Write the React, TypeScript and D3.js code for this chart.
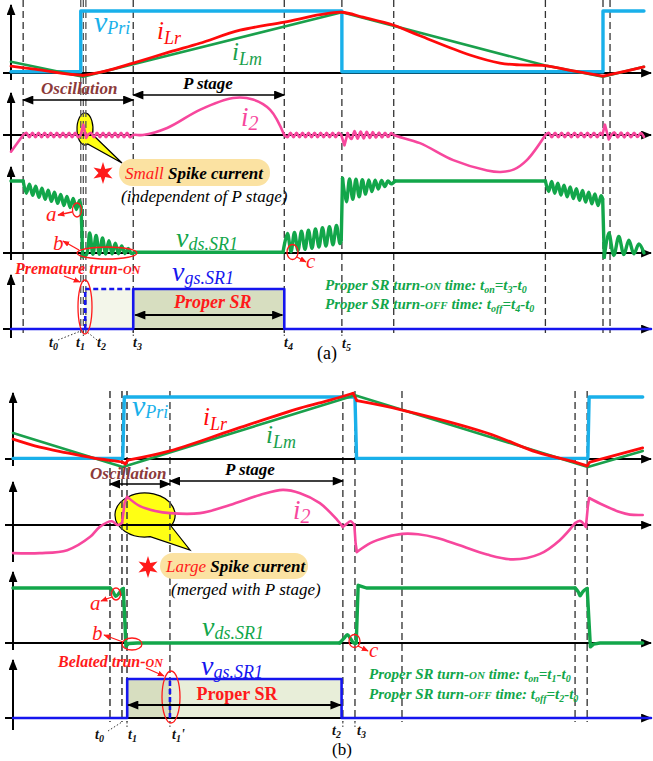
import React from 'react';
import * as d3 from 'd3';

type Pt = [number, number];
type Ring = { ring: [number, number]; n: number; c: [number, number]; a: [number, number]; s: number };
type Item = Pt | Ring;
type Seg = { sm?: boolean; p: Item[] };

const SERIF = '"Liberation Serif", "Times New Roman", serif';

const C = {
  vpri: '#19b0ea',
  ilr: '#ff0a0a',
  ilm: '#1aa04c',
  i2: '#f7479d',
  vds: '#12a64a',
  vgs: '#1515ee',
  osc: '#8c3a3a',
  red: '#ff1a1a',
  box: '#fbe2a2',
  bubble: '#ffff14',
  fillDark: '#d7dec0',
  fillLight: '#f3f6ea',
  fillMid: '#e8eed9',
  dash: '#333',
};

// ---------------- panel (a) ----------------
// switching instants (time units, 0..100 per panel)
const A_MARKS = [1.9, 10.9, 11.3, 11.7, 19.1, 42.7, 51.7, 59.8, 83.5, 92.5, 93.6];
const A_MARKS_CLOSE = [10.9, 11.3, 11.7];

const A_VPRI: Seg[] = [
  { p: [[0, 0.02], [10.9, 0.02], [10.9, 1], [51.7, 1], [51.7, 0.02], [92.5, 0.02], [92.5, 1], [98.9, 1]] },
];
const A_ILM: Seg[] = [
  { p: [[0, 0.18], [11.25, -0.06], [51.7, 0.98], [83.5, 0.12], [92.5, -0.06], [98.9, 0.1]] },
];
const A_ILR: Seg[] = [
  { sm: true, p: [[0, 0.11], [4.5, 0.05], [8.4, -0.01], [11.25, -0.04]] },
  {
    sm: true,
    p: [[11.25, -0.04], [14.7, 0.03], [19.1, 0.16], [24.8, 0.34], [29.5, 0.48], [35.8, 0.69], [42.7, 0.82], [48.3, 0.94],
      [51.7, 0.98], [55, 0.9], [59.8, 0.77], [63.9, 0.6], [71.7, 0.29], [76.4, 0.16], [79.5, 0.13], [83.4, 0.12], [88.1, 0.03], [92.5, -0.05]],
  },
  { sm: true, p: [[92.5, -0.05], [93.9, -0.02], [98.9, 0.1]] },
];
const A_I2: Seg[] = [
  { p: [[0, -0.45], [1.9, 0]] },
  { sm: true, p: [[1.9, 0], { ring: [2.4, 10.5], n: 8.5, c: [0, 0], a: [0.06, 0.06], s: 1 }, [10.9, 0]] },
  { p: [[10.9, 0], [11.3, 0.28], [11.75, -0.08], [12.0, 0]] },
  {
    sm: true,
    p: [[12.0, 0], { ring: [12.5, 18.6], n: 6.5, c: [0, 0], a: [0.06, 0.06], s: 1 }, [19.1, 0], [20.6, 0.0], [24.4, 0.19],
      [29.5, 0.68], [34.7, 1.0], [37.8, 0.96], [40.5, 0.68], [42.7, 0]],
  },
  { sm: true, p: [[42.7, 0], { ring: [43.2, 51.2], n: 8.5, c: [0, 0], a: [0.06, 0.06], s: -1 }, [51.6, 0]] },
  { p: [[51.6, 0], [52.1, -0.28], [52.6, 0.05]] },
  {
    sm: true,
    p: [[52.6, 0.05], { ring: [53.2, 59.4], n: 6.5, c: [0, 0], a: [0.11, 0.05], s: -1 }, [59.8, 0], [63.9, -0.22], [69.1, -0.68],
      [74.4, -0.96], [76.5, -1.0], [78.6, -0.93], [80.6, -0.68], [83.5, 0]],
  },
  { sm: true, p: [[83.5, 0], { ring: [84.0, 92.1], n: 8, c: [0, 0], a: [0.06, 0.06], s: 1 }, [92.4, 0]] },
  { p: [[92.4, 0], [92.8, 0.28], [93.4, -0.12], [93.8, 0]] },
  { sm: true, p: [[93.8, 0], { ring: [94.3, 98.9], n: 4.5, c: [0, 0], a: [0.07, 0.05], s: 1 }] },
];
const A_VDS: Seg[] = [
  { p: [[0, 1], [1.9, 1]] },
  { sm: true, p: [[1.9, 1], { ring: [2.4, 10.7], n: 8.5, c: [0.9, 0.66], a: [0.07, 0.07], s: -1 }, [10.95, 0.64]] },
  { p: [[10.95, 0.64], [11.2, -0.05]] },
  { sm: true, p: [[11.2, -0.05], [11.8, -0.02], { ring: [12.3, 18.8], n: 6.5, c: [0.13, 0.02], a: [0.15, 0.025], s: 1 }, [19.3, 0.01]] },
  { p: [[19.3, 0.01], [42.5, 0.01]] },
  { sm: true, p: [[42.5, 0.01], { ring: [43.2, 51.4], n: 7.5, c: [0.14, 0.26], a: [0.13, 0.13], s: 1 }, [51.6, 0.18]] },
  { p: [[51.6, 0.18], [51.8, 1.04]] },
  { sm: true, p: [[51.8, 1.04], { ring: [52.4, 59.4], n: 7, c: [0.87, 0.98], a: [0.16, 0.02], s: -1 }, [60, 1.0]] },
  { p: [[60, 1.0], [83.5, 1.0]] },
  { sm: true, p: [[83.5, 1.0], { ring: [84.0, 92.2], n: 8.5, c: [0.93, 0.72], a: [0.075, 0.075], s: -1 }, [92.45, 0.75]] },
  { p: [[92.45, 0.75], [92.7, -0.06]] },
  { sm: true, p: [[92.7, -0.06], { ring: [93.4, 98.9], n: 3.5, c: [0.12, 0.05], a: [0.16, 0.05], s: 1 }] },
];
const A_VGS: Seg[] = [{ p: [[0, 0], [19.1, 0], [19.1, 1], [42.7, 1], [42.7, 0], [100, 0]] }];
const A_VGS_EARLY: Seg[] = [{ p: [[11.6, 0], [11.6, 1], [19.1, 1]] }];
const A_FILLS = [
  { t: [11.6, 19.1], color: C.fillLight },
  { t: [19.1, 42.7], color: C.fillDark },
];

// ---------------- panel (b) ----------------
const B_MARKS = [15.2, 17.08, 17.87, 24.6, 51.7, 53.6, 60.97, 88.1, 90.0];
const B_MARKS_CLOSE = [15.2, 17.08, 17.87];

const B_VPRI: Seg[] = [
  { p: [[0, 0.01], [17.2, 0.01], [17.45, 1], [53.6, 1], [53.85, 0.01], [90.1, 0.01], [90.3, 1], [98.7, 1]] },
];
const B_ILM: Seg[] = [{ p: [[0, 0.42], [17.2, -0.13], [53.6, 1.03], [90.1, -0.13], [98.7, 0.13]] }];
const B_ILR: Seg[] = [
  { sm: true, p: [[0, 0.32], [4.2, 0.19], [8.5, 0.1], [13.6, 0], [17.1, -0.05], [17.6, -0.08]] },
  { p: [[17.6, -0.08], [18.0, -0.02]] },
  { sm: true, p: [[18.0, -0.02], [24.6, 0.13], [34.5, 0.47], [45, 0.82], [49.7, 0.95], [53.3, 1.06]] },
  { p: [[53.3, 1.06], [53.9, 0.94]] },
  { sm: true, p: [[53.9, 0.94], [61, 0.79], [74.3, 0.42], [82.1, 0.11], [88.1, -0.05], [90, -0.11]] },
  { p: [[90, -0.11], [90.4, -0.05], [98.7, 0.18]] },
];
const B_I2: Seg[] = [
  { sm: true, p: [[0, -0.76], [4.2, -0.76], [8.5, -0.68], [12.1, -0.32], [13.6, -0.05], [15.5, 0.1], [16.4, 0.0], [17.1, 0.06]] },
  { p: [[17.1, 0.06], [17.5, 0.6], [17.9, 0.76]] },
  {
    sm: true,
    p: [[17.9, 0.76], [19.9, 0.51], [22.3, 0.38], [24.6, 0.32], [29.3, 0.32], [34, 0.54], [38.7, 0.81], [42.3, 0.95],
      [45, 0.86], [48.1, 0.59], [50.8, 0.14], [51.7, -0.05]],
  },
  { sm: true, p: [[51.7, -0.05], [52.3, 0.03], [52.9, 0.1], [53.5, 0.0]] },
  { p: [[53.5, 0.0], [53.7, -0.5], [53.9, -0.73]] },
  {
    sm: true,
    p: [[53.9, -0.73], [56, -0.49], [58.5, -0.33], [61, -0.24], [63.5, -0.25], [66.5, -0.35], [70, -0.55], [74.3, -0.8],
      [78.4, -0.93], [82.6, -0.78], [85.7, -0.41], [88.1, 0.05]],
  },
  { sm: true, p: [[88.1, 0.05], [88.9, 0.11], [89.8, -0.05]] },
  { p: [[89.8, -0.05], [90.1, 0.5], [90.3, 0.73]] },
  { sm: true, p: [[90.3, 0.73], [92.5, 0.54], [95.1, 0.35], [96.7, 0.28], [98.7, 0.27]] },
];
const B_VDS: Seg[] = [
  { p: [[0, 1], [15.2, 1]] },
  { sm: true, p: [[15.2, 1], [15.7, 0.93], [16.1, 0.85], [16.6, 0.9], [17.1, 0.98], [17.3, 0.99]] },
  { p: [[17.3, 0.99], [17.7, -0.06], [18.1, -0.01], [19.5, 0], [51.2, 0]] },
  { sm: true, p: [[51.2, 0], [51.9, 0.09], [52.4, 0.15], [52.9, 0.08], [53.4, 0], [53.8, 0]] },
  { p: [[53.8, 0], [54.1, 1.05], [54.6, 1.03], [55.4, 1.0], [88.1, 1.0]] },
  { sm: true, p: [[88.1, 1.0], [88.6, 0.93], [88.9, 0.86], [89.3, 0.93], [89.8, 0.98], [90.0, 0.99]] },
  { p: [[90.0, 0.99], [90.5, -0.07], [91, -0.02], [92, 0], [98.7, 0]] },
];
const B_VGS: Seg[] = [{ p: [[0, 0], [17.9, 0], [17.9, 1], [51.5, 1], [51.5, 0], [100, 0]] }];
const B_VGS_LATE: Seg[] = [{ p: [[24.6, 0], [24.6, 1]] }];
const B_FILLS = [
  { t: [17.9, 24.6], color: C.fillDark },
  { t: [24.6, 51.5], color: C.fillMid },
];

// ---------------- scales ----------------
const xA = d3.scaleLinear().domain([0, 100]).range([11, 651]);
const xB = d3.scaleLinear().domain([0, 100]).range([13, 651]);
const yA = [
  d3.scaleLinear().domain([0, 1]).range([73, 11]),
  d3.scaleLinear().domain([0, 1]).range([135, 98]),
  d3.scaleLinear().domain([0, 1]).range([253, 181]),
  d3.scaleLinear().domain([0, 1]).range([329, 289]),
];
const yB = [
  d3.scaleLinear().domain([0, 1]).range([459, 397]),
  d3.scaleLinear().domain([0, 1]).range([525, 488]),
  d3.scaleLinear().domain([0, 1]).range([643, 588]),
  d3.scaleLinear().domain([0, 1]).range([718, 679]),
];

// damped ringing bursts are expanded into their alternating extremes
const expand = (items: Item[]): Pt[] => {
  const out: Pt[] = [];
  items.forEach((it) => {
    if (Array.isArray(it)) {
      out.push(it);
      return;
    }
    const m = Math.round(it.n * 2);
    for (let k = 0; k <= m; k++) {
      const f = k / m;
      const t = it.ring[0] + (it.ring[1] - it.ring[0]) * f;
      const c = it.c[0] + (it.c[1] - it.c[0]) * f;
      const a = it.a[0] + (it.a[1] - it.a[0]) * f;
      out.push([t, c + it.s * a * (k % 2 === 0 ? 1 : -1)]);
    }
  });
  return out;
};

type Scale = d3.ScaleLinear<number, number>;

function Wave(props: { segs: Seg[]; x: Scale; y: Scale; color: string; w: number; dash?: string }) {
  const { segs, x, y, color, w, dash } = props;
  return (
    <g>
      {segs.map((s, i) => {
        const gen = d3
          .line<Pt>()
          .x((d) => x(d[0]))
          .y((d) => y(d[1]))
          .curve(s.sm ? d3.curveCatmullRom.alpha(0.5) : d3.curveLinear);
        return (
          <path
            key={i}
            d={gen(expand(s.p)) || ''}
            fill="none"
            stroke={color}
            strokeWidth={w}
            strokeLinejoin="round"
            strokeLinecap={dash ? 'butt' : 'round'}
            strokeDasharray={dash}
          />
        );
      })}
    </g>
  );
}

function Sym(props: { x: number; y: number; m: string; s: string; color: string; size: number; sub: number; dy: number }) {
  const { x, y, m, s, color, size, sub, dy } = props;
  return (
    <text x={x} y={y} fill={color} fontStyle="italic" fontSize={size}>
      {m}
      <tspan fontSize={sub} dy={dy}>
        {s}
      </tspan>
    </text>
  );
}

function TLabel(props: { x: number; y: number; s: string; prime?: boolean }) {
  return (
    <text x={props.x} y={props.y} fontWeight="bold" fontStyle="italic" fontSize={14} fill="#111">
      t
      <tspan fontSize={10} dy={3}>
        {props.s}
      </tspan>
      {props.prime ? <tspan dy={-3}>{"'"}</tspan> : null}
    </text>
  );
}

function GreenLine(props: { x: number; y: number; word: string; sub: string; a: string; b: string }) {
  const { x, y, word, sub, a, b } = props;
  return (
    <text x={x} y={y} fill={C.vds} fontWeight="bold" fontStyle="italic" fontSize={15}>
      {'Proper SR turn-'}
      <tspan fontSize={11}>{word}</tspan>
      <tspan>{' time: t'}</tspan>
      <tspan fontSize={10} dy={3}>{sub}</tspan>
      <tspan dy={-3}>{'=t'}</tspan>
      <tspan fontSize={10} dy={3}>{a}</tspan>
      <tspan dy={-3}>{'-t'}</tspan>
      <tspan fontSize={10} dy={3}>{b}</tspan>
    </text>
  );
}

const bubblePath = (cx: number, cy: number, rx: number, ry: number, a1: number, a2: number, tx: number, ty: number) => {
  const r = Math.PI / 180;
  const p = (a: number) => [cx + rx * Math.cos(a * r), cy + ry * Math.sin(a * r)];
  const [x2, y2] = p(a1);
  const [x1, y1] = p(a2);
  return `M${x2},${y2}L${tx},${ty}L${x1},${y1}A${rx},${ry} 0 1 1 ${x2},${y2}Z`;
};

const starPath = (cx: number, cy: number, R: number, r: number, n: number) =>
  'M' +
  d3
    .range(2 * n)
    .map((i) => {
      const ang = -Math.PI / 2 + (i * Math.PI) / n;
      const rr = i % 2 ? r : R;
      return `${cx + rr * Math.cos(ang)},${cy + rr * Math.sin(ang)}`;
    })
    .join('L') +
  'Z';

function Axes(props: { x0: number; rows: { axis: number; top: number; bottom: number }[]; left: number }) {
  return (
    <g stroke="#000" strokeWidth={2}>
      {props.rows.map((r, i) => (
        <g key={i}>
          <line x1={props.x0} x2={props.x0} y1={r.bottom} y2={r.top} markerEnd="url(#ax)" />
          <line x1={props.left} x2={651} y1={r.axis} y2={r.axis} markerEnd="url(#ax)" />
        </g>
      ))}
    </g>
  );
}

export default function App() {
  const dashA = A_MARKS.map((t) => ({ x: xA(t), close: A_MARKS_CLOSE.includes(t) }));
  const dashB = B_MARKS.map((t) => ({ x: xB(t), close: B_MARKS_CLOSE.includes(t) }));

  return (
    <svg
      width={653}
      height={761}
      viewBox="0 0 653 761"
      style={{ position: 'absolute', left: 0, top: 0, display: 'block' }}
      fontFamily={SERIF}
    >
      <defs>
        <marker id="ax" viewBox="0 0 10 8" refX={9} refY={4} markerWidth={11} markerHeight={9} markerUnits="userSpaceOnUse" orient="auto-start-reverse">
          <path d="M0,0L10,4L0,8Z" fill="#000" />
        </marker>
        <marker id="ak" viewBox="0 0 10 8" refX={9} refY={4} markerWidth={12} markerHeight={9} markerUnits="userSpaceOnUse" orient="auto-start-reverse">
          <path d="M0,0L10,4L0,8Z" fill="#000" />
        </marker>
        <marker id="ar" viewBox="0 0 10 8" refX={9} refY={4} markerWidth={7} markerHeight={6} markerUnits="userSpaceOnUse" orient="auto-start-reverse">
          <path d="M0,0L10,4L0,8Z" fill={C.red} />
        </marker>
      </defs>
      <rect width={653} height={761} fill="#fff" />

      {/* ================= panel (a) ================= */}
      {A_FILLS.map((f, i) => (
        <rect key={i} x={xA(f.t[0])} width={xA(f.t[1]) - xA(f.t[0])} y={yA[3](1)} height={yA[3](0) - yA[3](1)} fill={f.color} />
      ))}
      <path d={bubblePath(85, 129, 8, 16, 20, 70, 122, 163)} fill={C.bubble} stroke="#000" strokeWidth={1.2} />

      {dashA.map((d, i) => (
        <line key={i} x1={d.x} x2={d.x} y1={0} y2={333} stroke={d.close ? '#555' : C.dash} strokeWidth={1.3} strokeDasharray="7,4" />
      ))}
      <g stroke="#333" strokeWidth={1} strokeDasharray="1.5,2">
        <line x1={58} y1={340} x2={xA(10.9)} y2={331} />
        <line x1={97} y1={340} x2={xA(11.7)} y2={331} />
        <line x1={xA(11.3)} y1={331} x2={xA(11.3)} y2={337} />
        {[19.1, 42.7, 51.7].map((t) => (
          <line key={t} x1={xA(t)} x2={xA(t)} y1={331} y2={338} />
        ))}
      </g>

      <Axes
        x0={11}
        left={3}
        rows={[
          { axis: 73, top: 5, bottom: 80 },
          { axis: 135, top: 93, bottom: 152 },
          { axis: 253, top: 167, bottom: 260 },
          { axis: 329, top: 275, bottom: 338 },
        ]}
      />

      <Wave segs={A_VPRI} x={xA} y={yA[0]} color={C.vpri} w={3.4} />
      <Wave segs={A_ILM} x={xA} y={yA[0]} color={C.ilm} w={2.6} />
      <Wave segs={A_ILR} x={xA} y={yA[0]} color={C.ilr} w={2.8} />
      <Wave segs={A_I2} x={xA} y={yA[1]} color={C.i2} w={2.6} />
      <Wave segs={A_VDS} x={xA} y={yA[2]} color={C.vds} w={3.4} />
      <Wave segs={A_VGS} x={xA} y={yA[3]} color={C.vgs} w={2.6} />
      <Wave segs={A_VGS_EARLY} x={xA} y={yA[3]} color={C.vgs} w={2.6} dash="5,3" />

      <Sym x={94} y={32} m="v" s="Pri" color={C.vpri} size={30} sub={18} dy={2} />
      <Sym x={157} y={39} m="i" s="Lr" color={C.ilr} size={25} sub={18} dy={5} />
      <Sym x={232} y={60} m="i" s="Lm" color={C.ilm} size={25} sub={18} dy={5} />
      <Sym x={241} y={126} m="i" s="2" color={C.i2} size={27} sub={20} dy={4} />
      <Sym x={176} y={247} m="v" s="ds.SR1" color={C.vds} size={28} sub={18} dy={3} />
      <Sym x={172} y={281} m="v" s="gs.SR1" color={C.vgs} size={28} sub={18} dy={3} />

      <text x={41} y={94} fill={C.osc} fontWeight="bold" fontStyle="italic" fontSize={17}>Oscillation</text>
      <line x1={xA(1.9)} x2={xA(19.1)} y1={100} y2={100} stroke="#000" strokeWidth={1.6} markerStart="url(#ak)" markerEnd="url(#ak)" />
      <text x={183} y={89} fill="#000" fontWeight="bold" fontStyle="italic" fontSize={17}>P stage</text>
      <line x1={xA(19.1)} x2={xA(42.7)} y1={95} y2={95} stroke="#000" strokeWidth={1.6} markerStart="url(#ak)" markerEnd="url(#ak)" />

      <rect x={119} y={159} width={151} height={27} rx={13} fill={C.box} />
      <path d={starPath(103, 173, 11, 4.5, 6)} fill={C.red} />
      <text x={125} y={179} fontSize={17} fontStyle="italic">
        <tspan fill={C.red}>{'Small '}</tspan>
        <tspan fontWeight="bold" fill="#000">Spike current</tspan>
      </text>
      <text x={121} y={202} fontSize={17} fontStyle="italic" fill="#000">(independent of P stage)</text>

      <g stroke={C.red} strokeWidth={1.3} fill="none">
        <ellipse cx={77} cy={210} rx={4.5} ry={7} />
        <line x1={72} y1={212} x2={58} y2={215} markerEnd="url(#ar)" />
        <ellipse cx={107} cy={253} rx={30} ry={6} />
        <line x1={79} y1={250} x2={63} y2={241} markerEnd="url(#ar)" />
        <ellipse cx={292.5} cy={252} rx={5.5} ry={7.5} />
        <line x1={297} y1={257} x2={306} y2={262} markerEnd="url(#ar)" />
        <ellipse cx={85} cy={307} rx={7} ry={27} />
        <line x1={64} y1={276} x2={80} y2={282} markerEnd="url(#ar)" />
      </g>
      <text x={46} y={221} fill={C.red} fontStyle="italic" fontSize={21}>a</text>
      <text x={53} y={250} fill={C.red} fontStyle="italic" fontSize={21}>b</text>
      <text x={306} y={268} fill={C.red} fontStyle="italic" fontSize={21}>c</text>

      <text x={15} y={274} fill={C.red} fontWeight="bold" fontStyle="italic" fontSize={16}>
        {'Premature trun-'}
        <tspan fontSize={12}>ON</tspan>
      </text>
      <text x={174} y={308} fill={C.red} fontWeight="bold" fontStyle="italic" fontSize={18}>Proper SR</text>
      <line x1={xA(19.1) + 2} x2={xA(42.7) - 2} y1={315} y2={315} stroke="#000" strokeWidth={1.8} markerStart="url(#ak)" markerEnd="url(#ak)" />

      <GreenLine x={325} y={290} word="ON" sub="on" a="3" b="0" />
      <GreenLine x={325} y={309} word="OFF" sub="off" a="4" b="0" />

      <TLabel x={49} y={347} s="0" />
      <TLabel x={76} y={347} s="1" />
      <TLabel x={97} y={347} s="2" />
      <TLabel x={133} y={347} s="3" />
      <TLabel x={284} y={347} s="4" />
      <TLabel x={342} y={348} s="5" />
      <text x={327} y={359} textAnchor="middle" fontSize={18} fill="#000">(a)</text>

      {/* ================= panel (b) ================= */}
      {B_FILLS.map((f, i) => (
        <rect key={i} x={xB(f.t[0])} width={xB(f.t[1]) - xB(f.t[0])} y={yB[3](1)} height={yB[3](0) - yB[3](1)} fill={f.color} />
      ))}
      <path d={bubblePath(145, 515, 30, 22, 30, 80, 190, 550)} fill={C.bubble} stroke="#000" strokeWidth={1.2} />

      {dashB.map((d, i) => (
        <line key={i} x1={d.x} x2={d.x} y1={391} y2={722} stroke={d.close ? '#444' : '#555'} strokeWidth={1.6} strokeDasharray="7,4" />
      ))}
      <g stroke="#333" strokeWidth={1} strokeDasharray="1.5,2">
        <line x1={108} y1={731} x2={xB(17.08)} y2={722} />
        {[17.87, 24.6, 51.7, 53.6].map((t) => (
          <line key={t} x1={xB(t)} x2={xB(t)} y1={722} y2={729} />
        ))}
      </g>

      <Axes
        x0={13}
        left={5}
        rows={[
          { axis: 459, top: 393, bottom: 466 },
          { axis: 525, top: 482, bottom: 562 },
          { axis: 643, top: 572, bottom: 650 },
          { axis: 718, top: 660, bottom: 730 },
        ]}
      />

      <Wave segs={B_VPRI} x={xB} y={yB[0]} color={C.vpri} w={3.4} />
      <Wave segs={B_ILM} x={xB} y={yB[0]} color={C.ilm} w={2.6} />
      <Wave segs={B_ILR} x={xB} y={yB[0]} color={C.ilr} w={2.8} />
      <Wave segs={B_I2} x={xB} y={yB[1]} color={C.i2} w={2.6} />
      <Wave segs={B_VDS} x={xB} y={yB[2]} color={C.vds} w={3.4} />
      <Wave segs={B_VGS} x={xB} y={yB[3]} color={C.vgs} w={2.6} />
      <Wave segs={B_VGS_LATE} x={xB} y={yB[3]} color={C.vgs} w={2.6} dash="5,3" />

      <Sym x={132} y={416} m="v" s="Pri" color={C.vpri} size={30} sub={18} dy={2} />
      <Sym x={203} y={425} m="i" s="Lr" color={C.ilr} size={25} sub={18} dy={5} />
      <Sym x={266} y={443} m="i" s="Lm" color={C.ilm} size={25} sub={18} dy={5} />
      <Sym x={293} y={519} m="i" s="2" color={C.i2} size={27} sub={20} dy={4} />
      <Sym x={202} y={636} m="v" s="ds.SR1" color={C.vds} size={28} sub={18} dy={3} />
      <Sym x={201} y={675} m="v" s="gs.SR1" color={C.vgs} size={28} sub={18} dy={3} />

      <text x={90} y={479} fill={C.osc} fontWeight="bold" fontStyle="italic" fontSize={17}>Oscillation</text>
      <line x1={xB(15.2)} x2={xB(24.6)} y1={484} y2={484} stroke="#000" strokeWidth={1.6} markerStart="url(#ak)" markerEnd="url(#ak)" />
      <text x={225} y={475} fill="#000" fontWeight="bold" fontStyle="italic" fontSize={17}>P stage</text>
      <line x1={xB(24.6)} x2={xB(51.7)} y1={481} y2={481} stroke="#000" strokeWidth={1.6} markerStart="url(#ak)" markerEnd="url(#ak)" />

      <rect x={160} y={553} width={148} height={26} rx={13} fill={C.box} />
      <path d={starPath(148, 567, 11, 4.5, 6)} fill={C.red} />
      <text x={166} y={572} fontSize={17} fontStyle="italic">
        <tspan fill={C.red}>{'Large '}</tspan>
        <tspan fontWeight="bold" fill="#000">Spike current</tspan>
      </text>
      <text x={171} y={595} fontSize={17} fontStyle="italic" fill="#000">(merged with P stage)</text>

      <g stroke={C.red} strokeWidth={1.3} fill="none">
        <ellipse cx={116} cy={594} rx={4.5} ry={6} />
        <line x1={112} y1={597} x2={101} y2={601} markerEnd="url(#ar)" />
        <ellipse cx={132} cy={644} rx={10} ry={6} />
        <line x1={123} y1={642} x2={104} y2={635} markerEnd="url(#ar)" />
        <ellipse cx={354.5} cy={641} rx={5.5} ry={6.5} />
        <line x1={358} y1={646} x2={368} y2={651} markerEnd="url(#ar)" />
        <ellipse cx={171} cy={697} rx={9} ry={26} />
        <line x1={146} y1={668} x2={164} y2={676} markerEnd="url(#ar)" />
      </g>
      <text x={90} y={610} fill={C.red} fontStyle="italic" fontSize={21}>a</text>
      <text x={92} y={640} fill={C.red} fontStyle="italic" fontSize={21}>b</text>
      <text x={369} y={657} fill={C.red} fontStyle="italic" fontSize={21}>c</text>

      <text x={58} y={667} fill={C.red} fontWeight="bold" fontStyle="italic" fontSize={16}>
        {'Belated trun-'}
        <tspan fontSize={12}>ON</tspan>
      </text>
      <text x={237} y={700} textAnchor="middle" fill={C.red} fontWeight="bold" fontSize={18}>Proper SR</text>
      <line x1={xB(17.9) + 1} x2={xB(51.5) - 1} y1={705} y2={705} stroke="#000" strokeWidth={1.8} markerStart="url(#ak)" markerEnd="url(#ak)" />

      <GreenLine x={369} y={679} word="ON" sub="on" a="1" b="0" />
      <GreenLine x={369} y={699} word="OFF" sub="off" a="2" b="0" />

      <TLabel x={95} y={739} s="0" />
      <TLabel x={128} y={739} s="1" />
      <TLabel x={172} y={739} s="1" prime />
      <TLabel x={332} y={735} s="2" />
      <TLabel x={357} y={735} s="3" />
      <text x={342} y={755} textAnchor="middle" fontSize={17} fill="#000">(b)</text>
    </svg>
  );
}
